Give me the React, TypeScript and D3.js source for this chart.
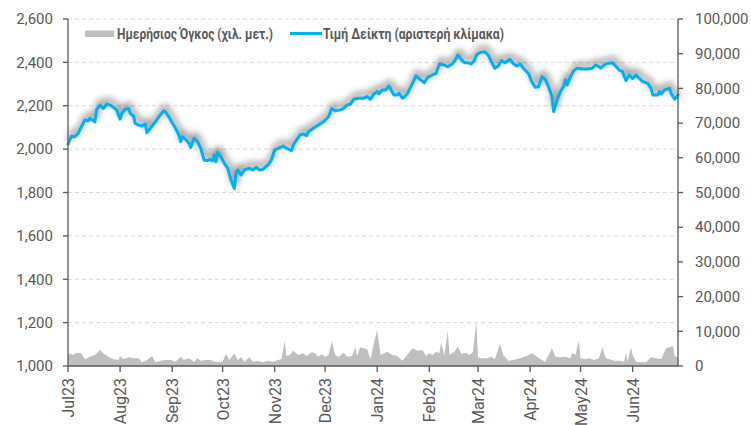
import React from "react";
import * as d3 from "d3";

const indexSeries: [string, number][] = [
  ["2023-07-01", 2023], ["2023-07-03", 2060], ["2023-07-05", 2057], ["2023-07-07", 2073],
  ["2023-07-10", 2119], ["2023-07-11", 2134], ["2023-07-13", 2131], ["2023-07-14", 2142],
  ["2023-07-17", 2126], ["2023-07-18", 2181], ["2023-07-20", 2203], ["2023-07-22", 2188],
  ["2023-07-23", 2196], ["2023-07-24", 2208], ["2023-07-26", 2203], ["2023-07-28", 2193],
  ["2023-07-30", 2181], ["2023-08-01", 2138], ["2023-08-02", 2165], ["2023-08-04", 2184],
  ["2023-08-06", 2188], ["2023-08-07", 2165], ["2023-08-09", 2153], ["2023-08-10", 2119],
  ["2023-08-12", 2111], ["2023-08-14", 2107], ["2023-08-16", 2116], ["2023-08-17", 2076],
  ["2023-08-20", 2107], ["2023-08-22", 2126], ["2023-08-24", 2149], ["2023-08-27", 2177],
  ["2023-08-28", 2172], ["2023-08-30", 2149], ["2023-09-01", 2122], ["2023-09-03", 2096],
  ["2023-09-05", 2065], ["2023-09-06", 2035], ["2023-09-07", 2057], ["2023-09-09", 2045],
  ["2023-09-11", 2027], ["2023-09-12", 2008], ["2023-09-14", 2050], ["2023-09-16", 2035],
  ["2023-09-18", 2004], ["2023-09-20", 1950], ["2023-09-22", 1947], ["2023-09-23", 1953],
  ["2023-09-25", 1947], ["2023-09-26", 1973], ["2023-09-27", 1942], ["2023-09-28", 1984],
  ["2023-09-30", 1965], ["2023-10-02", 1935], ["2023-10-04", 1912], ["2023-10-06", 1858],
  ["2023-10-08", 1819], ["2023-10-09", 1889], ["2023-10-10", 1904], ["2023-10-12", 1881],
  ["2023-10-14", 1904], ["2023-10-17", 1912], ["2023-10-19", 1904], ["2023-10-21", 1916],
  ["2023-10-23", 1904], ["2023-10-25", 1907], ["2023-10-28", 1927], ["2023-10-30", 1950],
  ["2023-11-01", 1996], ["2023-11-03", 2004], ["2023-11-06", 2014], ["2023-11-08", 2004],
  ["2023-11-11", 1993], ["2023-11-12", 2019], ["2023-11-14", 2042], ["2023-11-16", 2065],
  ["2023-11-18", 2070], ["2023-11-20", 2062], ["2023-11-21", 2080], ["2023-11-24", 2096],
  ["2023-11-27", 2111], ["2023-11-30", 2126], ["2023-12-03", 2149], ["2023-12-05", 2188],
  ["2023-12-07", 2177], ["2023-12-10", 2181], ["2023-12-12", 2188], ["2023-12-14", 2203],
  ["2023-12-16", 2208], ["2023-12-18", 2230], ["2023-12-21", 2235], ["2023-12-24", 2235],
  ["2023-12-26", 2242], ["2023-12-28", 2230], ["2023-12-30", 2254], ["2024-01-01", 2265],
  ["2024-01-02", 2255], ["2024-01-04", 2273], ["2024-01-06", 2273], ["2024-01-08", 2291],
  ["2024-01-11", 2250], ["2024-01-13", 2250], ["2024-01-14", 2257], ["2024-01-16", 2235],
  ["2024-01-17", 2239], ["2024-01-19", 2257], ["2024-01-22", 2303], ["2024-01-24", 2337],
  ["2024-01-27", 2319], ["2024-01-29", 2306], ["2024-01-31", 2331], ["2024-02-03", 2342],
  ["2024-02-05", 2349], ["2024-02-07", 2393], ["2024-02-10", 2388], ["2024-02-12", 2380],
  ["2024-02-15", 2395], ["2024-02-17", 2418], ["2024-02-18", 2434], ["2024-02-20", 2414],
  ["2024-02-22", 2398], ["2024-02-24", 2398], ["2024-02-26", 2393], ["2024-02-28", 2411],
  ["2024-02-29", 2434], ["2024-03-02", 2445], ["2024-03-05", 2449], ["2024-03-07", 2434],
  ["2024-03-09", 2403], ["2024-03-11", 2373], ["2024-03-13", 2383], ["2024-03-15", 2408],
  ["2024-03-17", 2398], ["2024-03-20", 2414], ["2024-03-22", 2395], ["2024-03-24", 2383],
  ["2024-03-26", 2393], ["2024-03-28", 2373], ["2024-03-31", 2349], ["2024-04-02", 2311],
  ["2024-04-04", 2285], ["2024-04-06", 2288], ["2024-04-08", 2334], ["2024-04-10", 2322],
  ["2024-04-12", 2288], ["2024-04-14", 2242], ["2024-04-15", 2173], ["2024-04-17", 2227],
  ["2024-04-19", 2265], ["2024-04-21", 2291], ["2024-04-22", 2319], ["2024-04-23", 2296],
  ["2024-04-25", 2334], ["2024-04-27", 2362], ["2024-04-29", 2373], ["2024-05-02", 2369],
  ["2024-05-05", 2369], ["2024-05-08", 2373], ["2024-05-10", 2388], ["2024-05-12", 2380],
  ["2024-05-13", 2373], ["2024-05-16", 2393], ["2024-05-20", 2398], ["2024-05-22", 2383],
  ["2024-05-24", 2365], ["2024-05-26", 2357], ["2024-05-28", 2316], ["2024-05-30", 2342],
  ["2024-06-01", 2326], ["2024-06-03", 2342], ["2024-06-05", 2326], ["2024-06-07", 2311],
  ["2024-06-10", 2303], ["2024-06-12", 2280], ["2024-06-13", 2250], ["2024-06-16", 2250],
  ["2024-06-17", 2265], ["2024-06-18", 2254], ["2024-06-20", 2273], ["2024-06-23", 2280],
  ["2024-06-24", 2257], ["2024-06-26", 2230], ["2024-06-28", 2250],
];

const volumeSeries: [string, number][] = [
  ["2023-07-01", 3000], ["2023-07-02", 3650], ["2023-07-04", 3170], ["2023-07-06", 3830],
  ["2023-07-09", 3650], ["2023-07-11", 1930], ["2023-07-14", 2690], ["2023-07-17", 3170],
  ["2023-07-20", 4610], ["2023-07-22", 3650], ["2023-07-25", 2690], ["2023-07-28", 1930],
  ["2023-07-31", 1730], ["2023-08-01", 2880], ["2023-08-03", 1930], ["2023-08-06", 2500],
  ["2023-08-09", 2210], ["2023-08-12", 2210], ["2023-08-14", 1060], ["2023-08-17", 1730],
  ["2023-08-20", 2880], ["2023-08-22", 1060], ["2023-08-25", 1540], ["2023-08-28", 1730],
  ["2023-08-31", 1730], ["2023-09-03", 1250], ["2023-09-06", 2690], ["2023-09-08", 1730],
  ["2023-09-11", 2210], ["2023-09-14", 1250], ["2023-09-16", 2210], ["2023-09-18", 1540],
  ["2023-09-21", 1730], ["2023-09-24", 1730], ["2023-09-26", 1250], ["2023-09-29", 1250],
  ["2023-10-01", 1250], ["2023-10-03", 3460], ["2023-10-05", 1730], ["2023-10-08", 3650],
  ["2023-10-10", 1730], ["2023-10-12", 2500], ["2023-10-14", 1250], ["2023-10-17", 2500],
  ["2023-10-19", 1250], ["2023-10-22", 1540], ["2023-10-25", 1060], ["2023-10-28", 1540],
  ["2023-10-31", 1250], ["2023-11-03", 1730], ["2023-11-05", 1930], ["2023-11-07", 7300],
  ["2023-11-08", 2880], ["2023-11-10", 3170], ["2023-11-12", 4420], ["2023-11-15", 3170],
  ["2023-11-18", 3650], ["2023-11-20", 2880], ["2023-11-23", 3940], ["2023-11-25", 3650],
  ["2023-11-27", 2690], ["2023-11-29", 3360], ["2023-12-01", 2690], ["2023-12-03", 3170],
  ["2023-12-05", 7200], ["2023-12-07", 3170], ["2023-12-09", 2690], ["2023-12-12", 3830],
  ["2023-12-14", 2690], ["2023-12-17", 2880], ["2023-12-19", 5390], ["2023-12-20", 2880],
  ["2023-12-22", 5390], ["2023-12-24", 5100], ["2023-12-26", 4810], ["2023-12-28", 1930],
  ["2023-12-30", 6540], ["2024-01-01", 10400], ["2024-01-03", 3170], ["2024-01-07", 4120],
  ["2024-01-10", 3170], ["2024-01-13", 2880], ["2024-01-16", 1540], ["2024-01-18", 2690],
  ["2024-01-22", 5100], ["2024-01-25", 4420], ["2024-01-28", 4610], ["2024-01-30", 2880],
  ["2024-02-01", 3650], ["2024-02-03", 3170], ["2024-02-05", 4120], ["2024-02-07", 3650],
  ["2024-02-08", 6720], ["2024-02-10", 3170], ["2024-02-12", 10170], ["2024-02-13", 3170],
  ["2024-02-16", 4120], ["2024-02-18", 5560], ["2024-02-20", 3460], ["2024-02-23", 3830],
  ["2024-02-25", 3170], ["2024-02-27", 4120], ["2024-02-29", 13060], ["2024-03-01", 2500],
  ["2024-03-03", 2210], ["2024-03-06", 2210], ["2024-03-09", 2690], ["2024-03-11", 1930],
  ["2024-03-14", 6340], ["2024-03-16", 3170], ["2024-03-19", 1540], ["2024-03-22", 1730],
  ["2024-03-26", 2210], ["2024-03-30", 2880], ["2024-04-02", 3650], ["2024-04-05", 2690],
  ["2024-04-08", 1730], ["2024-04-10", 1250], ["2024-04-12", 3170], ["2024-04-14", 5100],
  ["2024-04-16", 2690], ["2024-04-19", 2500], ["2024-04-22", 2690], ["2024-04-25", 2210],
  ["2024-04-26", 3830], ["2024-04-28", 3170], ["2024-04-30", 7300], ["2024-05-01", 2210],
  ["2024-05-04", 1930], ["2024-05-06", 2210], ["2024-05-09", 1730], ["2024-05-12", 2210],
  ["2024-05-14", 5390], ["2024-05-16", 2210], ["2024-05-18", 1930], ["2024-05-21", 1540],
  ["2024-05-24", 1540], ["2024-05-27", 1250], ["2024-05-28", 4120], ["2024-05-29", 1250],
  ["2024-05-31", 5390], ["2024-06-01", 3170], ["2024-06-03", 1250], ["2024-06-06", 1060],
  ["2024-06-09", 1060], ["2024-06-12", 2500], ["2024-06-15", 2210], ["2024-06-18", 1930],
  ["2024-06-21", 5100], ["2024-06-23", 5390], ["2024-06-25", 5760], ["2024-06-26", 2880],
  ["2024-06-27", 2690], ["2024-06-28", 2690],
];

const leftTicks = [1000, 1200, 1400, 1600, 1800, 2000, 2200, 2400, 2600];
const rightTicks = [0, 10000, 20000, 30000, 40000, 50000, 60000, 70000, 80000, 90000, 100000];
const monthTicks = [
  "2023-07-01", "2023-08-01", "2023-09-01", "2023-10-01", "2023-11-01", "2023-12-01",
  "2024-01-01", "2024-02-01", "2024-03-01", "2024-04-01", "2024-05-01", "2024-06-01",
];
const monthLabels = [
  "Jul23", "Aug23", "Sep23", "Oct23", "Nov23", "Dec23",
  "Jan24", "Feb24", "Mar24", "Apr24", "May24", "Jun24",
];
const legendLabels = ["Ημερήσιος Όγκος (χιλ. μετ.)", "Τιμή Δείκτη (αριστερή κλίμακα)"];

const parse = d3.timeParse("%Y-%m-%d");
const TEXT = "#595959";
const FONT = "Roboto, 'Noto Sans', sans-serif";

export default function App() {
  const W = 751, H = 425;
  const L = 68, R = 678, T = 19, B = 366;
  const x = d3.scaleTime()
    .domain([parse("2023-07-01") as Date, parse("2024-06-28") as Date])
    .range([L, R]);
  const yL = d3.scaleLinear().domain([1000, 2600]).range([B, T]);
  const yR = d3.scaleLinear().domain([0, 100000]).range([B, T]);
  const fmt = d3.format(",");

  const idx = indexSeries.map(([d, v]) => ({ d: parse(d) as Date, v }));
  const vol = volumeSeries.map(([d, v]) => ({ d: parse(d) as Date, v }));

  const line = d3.line<{ d: Date; v: number }>().x((p) => x(p.d)).y((p) => yL(p.v));
  const area = d3.area<{ d: Date; v: number }>()
    .x((p) => x(p.d)).y0(yR(0)).y1((p) => yR(p.v));

  return (
    <svg width={W} height={H} style={{ position: "absolute", left: 0, top: 0, background: "#fff" }}
      fontFamily={FONT}>
      <defs>
        <filter id="shadow" x="-10%" y="-30%" width="120%" height="160%">
          <feGaussianBlur in="SourceAlpha" stdDeviation="3.5" result="b" />
          <feOffset in="b" dx="1" dy="-4" result="o" />
          <feComponentTransfer in="o" result="s">
            <feFuncA type="linear" slope="0.55" />
          </feComponentTransfer>
        </filter>
      </defs>
      {leftTicks.filter((t) => t > 1000).map((t) => (
        <line key={"g" + t} x1={L} x2={R} y1={yL(t)} y2={yL(t)}
          stroke="#d9d9d9" strokeWidth={1} strokeDasharray="4,3" />
      ))}
      <path d={area(vol) || ""} fill="#bfbfbf" />
      <path d={line(idx) || ""} fill="none" stroke="#000" strokeWidth={3.5} filter="url(#shadow)"
        strokeLinejoin="round" />
      <path d={line(idx) || ""} fill="none" stroke="#00b0f0" strokeWidth={3}
        strokeLinejoin="round" strokeLinecap="round" />
      <g stroke={TEXT} strokeWidth={1.3}>
        <line x1={L} x2={L} y1={T} y2={B} />
        <line x1={R} x2={R} y1={T} y2={B} />
        <line x1={L} x2={R} y1={B} y2={B} />
        {leftTicks.map((t) => (
          <line key={"lt" + t} x1={L - 5} x2={L} y1={yL(t)} y2={yL(t)} />
        ))}
        {rightTicks.map((t) => (
          <line key={"rt" + t} x1={R} x2={R + 5} y1={yR(t)} y2={yR(t)} />
        ))}
        {monthTicks.map((m) => (
          <line key={"xt" + m} x1={x(parse(m) as Date)} x2={x(parse(m) as Date)} y1={B} y2={B + 6} />
        ))}
      </g>
      {leftTicks.map((t) => (
        <text key={"ll" + t} x={53} y={yL(t)} dy="0.35em" textAnchor="end"
          fontSize={15} fill={TEXT}>{fmt(t)}</text>
      ))}
      {rightTicks.map((t) => (
        <text key={"rl" + t} x={695} y={yR(t)} dy="0.35em" textAnchor="start"
          fontSize={15} fill={TEXT}>{fmt(t)}</text>
      ))}
      {monthTicks.map((m, i) => {
        const xx = x(parse(m) as Date) + 6;
        return (
          <text key={"xl" + m} transform={`translate(${xx},${B + 12}) rotate(-90)`}
            textAnchor="end" fontSize={16} fill={TEXT}>{monthLabels[i]}</text>
        );
      })}
      <rect x={85} y={30.5} width={29} height={6.5} fill="#bfbfbf" />
      <text x={117} y={39} fontSize={14} fontWeight="bold" fill={TEXT}
        textLength={156} lengthAdjust="spacingAndGlyphs">{legendLabels[0]}</text>
      <line x1={290} x2={322} y1={33.5} y2={33.5} stroke="#00b0f0" strokeWidth={3} />
      <text x={323} y={39} fontSize={14} fontWeight="bold" fill={TEXT}
        textLength={181} lengthAdjust="spacingAndGlyphs">{legendLabels[1]}</text>
    </svg>
  );
}
